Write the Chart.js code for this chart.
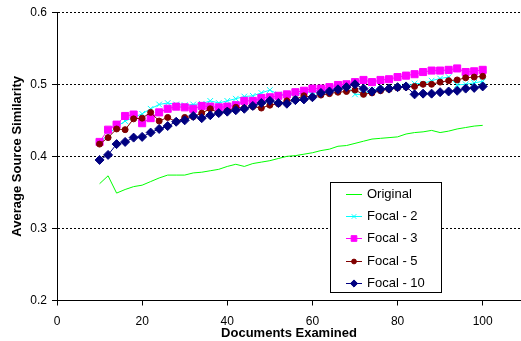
<!DOCTYPE html>
<html>
<head>
<meta charset="utf-8">
<script src="https://cdn.jsdelivr.net/npm/chart.js@4.4.0/dist/chart.umd.min.js"></script>
<style>
  html, body { margin: 0; padding: 0; background: #fff; overflow: hidden; }
  #wrap { width: 521px; height: 341px; }
</style>
</head>
<body>
<div id="wrap"><canvas id="chart" width="521" height="341"></canvas></div>
<script>
// Documents examined (x values)
const docs = [10, 12, 14, 16, 18, 20, 22, 24, 26, 28, 30, 32, 34, 36, 38, 40, 42, 44, 46, 48,
  50, 52, 54, 56, 58, 60, 62, 64, 66, 68, 70, 72, 74, 76, 78, 80, 82, 84, 86, 88,
  90, 92, 94, 96, 98, 100];

const original = [0.362, 0.373, 0.349, 0.354, 0.358, 0.360, 0.365, 0.370, 0.374, 0.374,
  0.374, 0.377, 0.378, 0.380, 0.382, 0.386, 0.389, 0.386, 0.390, 0.392,
  0.394, 0.397, 0.400, 0.401, 0.403, 0.405, 0.408, 0.410, 0.414, 0.415,
  0.418, 0.421, 0.424, 0.425, 0.426, 0.427, 0.431, 0.433, 0.434, 0.436,
  0.433, 0.435, 0.438, 0.440, 0.442, 0.443];

const focal2 = [0.419, 0.430, 0.441, 0.449, 0.454, 0.459, 0.466, 0.472, 0.474, 0.472,
  0.471, 0.472, 0.473, 0.477, 0.474, 0.477, 0.480, 0.483, 0.484, 0.488,
  0.492, 0.486, 0.485, 0.486, 0.488, 0.490, 0.492, 0.493, 0.496, 0.499,
  0.486, 0.486, 0.492, 0.493, 0.494, 0.496, 0.497, 0.501, 0.501, 0.505,
  0.508, 0.510, 0.499, 0.500, 0.502, 0.504];

const focal3 = [0.420, 0.437, 0.444, 0.456, 0.458, 0.446, 0.453, 0.461, 0.466, 0.469,
  0.468, 0.466, 0.470, 0.469, 0.468, 0.469, 0.471, 0.477, 0.477, 0.481,
  0.482, 0.484, 0.486, 0.489, 0.491, 0.494, 0.494, 0.496, 0.499, 0.500,
  0.503, 0.506, 0.503, 0.506, 0.507, 0.510, 0.512, 0.514, 0.517, 0.519,
  0.519, 0.520, 0.522, 0.517, 0.518, 0.520];

const focal5 = [0.417, 0.426, 0.438, 0.437, 0.452, 0.453, 0.461, 0.449, 0.454, 0.448,
  0.454, 0.455, 0.460, 0.466, 0.460, 0.463, 0.468, 0.467, 0.469, 0.467,
  0.471, 0.473, 0.477, 0.479, 0.484, 0.482, 0.485, 0.487, 0.489, 0.490,
  0.492, 0.486, 0.488, 0.491, 0.493, 0.495, 0.496, 0.497, 0.500, 0.500,
  0.503, 0.505, 0.506, 0.509, 0.510, 0.511];

const focal10 = [0.395, 0.402, 0.417, 0.420, 0.426, 0.427, 0.433, 0.438, 0.442, 0.448,
  0.450, 0.456, 0.453, 0.457, 0.460, 0.462, 0.464, 0.466, 0.470, 0.474,
  0.477, 0.474, 0.473, 0.478, 0.479, 0.482, 0.488, 0.490, 0.493, 0.496,
  0.500, 0.494, 0.490, 0.493, 0.494, 0.496, 0.497, 0.486, 0.487, 0.487,
  0.489, 0.490, 0.491, 0.494, 0.495, 0.497];

const xTicks = [0, 20, 40, 60, 80, 100];
const yTicks = [0.2, 0.3, 0.4, 0.5, 0.6];

const FONT = '"Liberation Sans", Arial, sans-serif';

function pairs(values) {
  return docs.map((d, i) => ({ x: d, y: values[i] }));
}

function series(label, values, color, style, radius) {
  return {
    label: label,
    data: pairs(values),
    borderColor: color,
    backgroundColor: color,
    borderWidth: 1,
    pointStyle: style,
    pointRadius: radius,
    pointBackgroundColor: color,
    pointBorderColor: color,
    pointBorderWidth: 1,
    tension: 0,
  };
}

// Legend drawn as a boxed key inside the plot, like the original
const boxLegend = {
  id: "boxLegend",
  afterDraw(chart) {
    const ctx = chart.ctx;
    const bx = 330.5, by = 182.5, bw = 111, bh = 110;
    ctx.save();
    ctx.fillStyle = "#fff";
    ctx.fillRect(bx, by, bw, bh);
    ctx.strokeStyle = "#000";
    ctx.lineWidth = 1;
    ctx.strokeRect(bx, by, bw, bh);
    ctx.font = "13px " + FONT;
    ctx.textBaseline = "middle";
    chart.data.datasets.forEach((ds, i) => {
      const ly = Math.round(194 + i * 22.2) + 0.5;
      ctx.strokeStyle = ds.borderColor;
      ctx.lineWidth = 1;
      ctx.beginPath();
      ctx.moveTo(346, ly);
      ctx.lineTo(362, ly);
      ctx.stroke();
      if (ds.pointRadius > 0 && Chart.helpers && Chart.helpers.drawPoint) {
        ctx.fillStyle = ds.pointBackgroundColor;
        ctx.strokeStyle = ds.pointBorderColor;
        Chart.helpers.drawPoint(ctx, { pointStyle: ds.pointStyle, radius: ds.pointRadius * 0.8, rotation: 0, borderWidth: 1 }, 354, ly);
      }
      ctx.fillStyle = "#000";
      ctx.fillText(ds.label, 367, ly);
    });
    ctx.restore();
  },
};

new Chart(document.getElementById("chart"), {
  type: "line",
  data: {
    datasets: [
      series("Original", original, "#00ff00", "circle", 0),
      series("Focal - 2", focal2, "#00ffff", "crossRot", 4),
      series("Focal - 3", focal3, "#ff00ff", "rect", 5),
      series("Focal - 5", focal5, "#800000", "circle", 3),
      series("Focal - 10", focal10, "#000080", "rectRot", 4.5),
    ].map((ds, i, all) => Object.assign(ds, { order: all.length - i })),
  },
  options: {
    responsive: false,
    animation: false,
    events: [],
    layout: { autoPadding: false, padding: { top: 10, right: 0, bottom: 0, left: 0 } },
    plugins: { legend: { display: false }, tooltip: { enabled: false } },
    scales: {
      x: {
        type: "linear",
        min: 0,
        max: 109,
        afterBuildTicks: (s) => { s.ticks = xTicks.map((v) => ({ value: v })); },
        afterFit: (s) => { s.height = 40.5; s.paddingRight = 0; s.paddingLeft = 0; },
        grid: { display: true, drawOnChartArea: false, drawTicks: true, tickLength: 5, tickColor: "#000" },
        border: { display: true, color: "#000", width: 1 },
        ticks: { color: "#000", font: { family: FONT, size: 12 }, padding: 9, maxRotation: 0 },
        title: {
          display: true,
          text: "Documents Examined",
          color: "#000",
          font: { family: FONT, size: 13, weight: "bold" },
          padding: { top: 0, bottom: 0 },
        },
      },
      y: {
        min: 0.2,
        max: 0.6,
        afterBuildTicks: (s) => { s.ticks = yTicks.map((v) => ({ value: v })); },
        afterFit: (s) => { s.width = 57; },
        grid: { color: "#000", lineWidth: 1, drawTicks: true, tickLength: 5, tickColor: "#000", tickBorderDash: [] },
        border: { display: true, color: "#000", width: 1, dash: [2, 2] },
        ticks: { color: "#000", font: { family: FONT, size: 12 }, padding: 5, callback: (v) => Number(v).toFixed(1) },
        title: {
          display: true,
          text: "Average Source Similarity",
          color: "#000",
          font: { family: FONT, size: 13, weight: "bold" },
          padding: { top: 10, bottom: 0 },
        },
      },
    },
  },
  plugins: [boxLegend],
});
</script>
</body>
</html>
